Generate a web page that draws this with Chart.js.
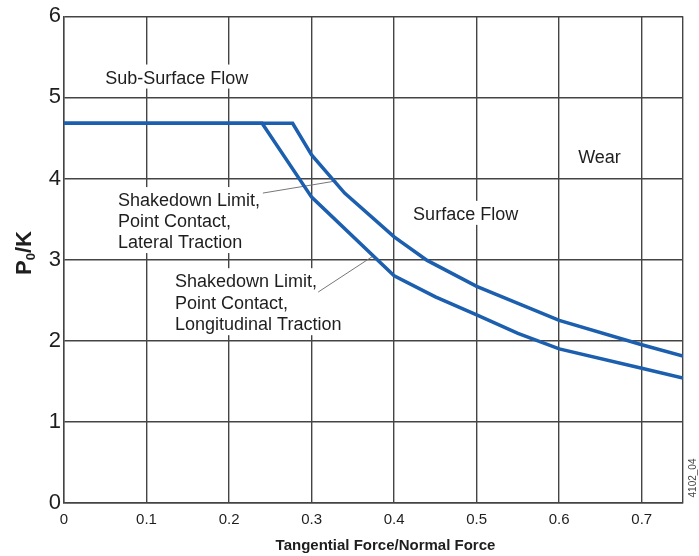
<!DOCTYPE html>
<html>
<head>
<meta charset="utf-8">
<script src="https://cdn.jsdelivr.net/npm/chart.js@4"></script>
<style>
  html, body { margin: 0; padding: 0; background: #fff; }
  #wrap { width: 699px; height: 556px; }
</style>
</head>
<body>
<div id="wrap"><canvas id="myChart" width="699" height="556"></canvas></div>
<script>
// values
var xTicks = [0, 0.1, 0.2, 0.3, 0.4, 0.5, 0.6, 0.7, 0.75];
var yTicks = [0, 1, 2, 3, 4, 5, 6];

var lateralX = [0, 0.277, 0.3, 0.34, 0.4, 0.44, 0.5, 0.6, 0.7, 0.75];
var lateralY = [4.68, 4.68, 4.29, 3.82, 3.28, 2.99, 2.67, 2.25, 1.95, 1.81];

var longX = [0, 0.24, 0.3, 0.4, 0.45, 0.5, 0.55, 0.6, 0.7, 0.75];
var longY = [4.68, 4.68, 3.77, 2.80, 2.54, 2.32, 2.09, 1.90, 1.66, 1.54];

// region labels [text, x, y] in data units (left, baseline)
var regionLabels = [
  ['Sub-Surface Flow', 0.05, 5.17],
  ['Wear', 0.623, 4.19],
  ['Surface Flow', 0.423, 3.49]
];
var lateralNote = ['Shakedown Limit,', 'Point Contact,', 'Lateral Traction'];
var longNote = ['Shakedown Limit,', 'Point Contact,', 'Longitudinal Traction'];

function pts(xs, ys) {
  var out = [];
  for (var i = 0; i < xs.length; i++) out.push({x: xs[i], y: ys[i]});
  return out;
}

var blue = '#1c5fae';
var gridCol = '#444';
var textCol = '#1e1e1e';

var labelsPlugin = {
  id: 'labels',
  beforeDatasetsDraw: function(chart) {
    var ctx = chart.ctx;
    var xs = chart.scales.x, ys = chart.scales.y;
    function px(v) { return xs.getPixelForValue(v); }
    function py(v) { return ys.getPixelForValue(v); }
    ctx.save();
    ctx.font = '18px "Liberation Sans", Arial, sans-serif';
    ctx.textBaseline = 'alphabetic';
    ctx.textAlign = 'left';

    // white boxes behind the texts
    function block(lines, x, y0, step) {
      var w = 0;
      for (var i = 0; i < lines.length; i++) w = Math.max(w, ctx.measureText(lines[i]).width);
      var left = px(x), top = py(y0) - 16;
      var h = step * (lines.length - 1) + 22;
      ctx.fillStyle = '#fff';
      ctx.fillRect(left - 4, top - 3, w + 8, h + 2);
      ctx.fillStyle = textCol;
      for (var j = 0; j < lines.length; j++) {
        ctx.fillText(lines[j], left, py(y0) + j * step);
      }
    }
    regionLabels.forEach(function(r) { block([r[0]], r[1], r[2], 21); });
    block(lateralNote, 0.0654, 3.66, 21);
    block(longNote, 0.1345, 2.66, 21.5);

    // leader lines
    ctx.strokeStyle = '#777';
    ctx.lineWidth = 1;
    ctx.beginPath();
    ctx.moveTo(px(0.241), py(3.82));
    ctx.lineTo(px(0.330), py(3.97));
    ctx.moveTo(px(0.308), py(2.60));
    ctx.lineTo(px(0.374), py(3.04));
    ctx.stroke();
    ctx.restore();
  },
  afterDraw: function(chart) {
    var ctx = chart.ctx;
    var a = chart.chartArea;
    ctx.save();
    ctx.fillStyle = textCol;
    // x title
    ctx.font = 'bold 15px "Liberation Sans", Arial, sans-serif';
    ctx.textAlign = 'center';
    ctx.textBaseline = 'alphabetic';
    ctx.fillText('Tangential Force/Normal Force', a.left + (a.right - a.left) / 2 + 12, 550);

    // y title P0/K, rotated
    ctx.translate(31, 253);
    ctx.rotate(-Math.PI / 2);
    ctx.font = 'bold 22px "Liberation Sans", Arial, sans-serif';
    ctx.textAlign = 'left';
    var wP = ctx.measureText('P').width;
    ctx.font = 'bold 13px "Liberation Sans", Arial, sans-serif';
    var w0 = ctx.measureText('0').width;
    ctx.font = 'bold 22px "Liberation Sans", Arial, sans-serif';
    var wK = ctx.measureText('/K').width;
    var start = -(wP + w0 + wK) / 2;
    ctx.fillText('P', start, 0);
    ctx.font = 'bold 13px "Liberation Sans", Arial, sans-serif';
    ctx.fillText('0', start + wP, 4);
    ctx.font = 'bold 22px "Liberation Sans", Arial, sans-serif';
    ctx.fillText('/K', start + wP + w0, 0);
    ctx.restore();

    // figure id
    ctx.save();
    ctx.translate(696, 478);
    ctx.rotate(-Math.PI / 2);
    ctx.font = '10px "Liberation Sans", Arial, sans-serif';
    ctx.fillStyle = '#444';
    ctx.textAlign = 'center';
    ctx.fillText('4102_04', 0, 0);
    ctx.restore();
  }
};

var ctx = document.getElementById('myChart').getContext('2d');
var myChart = new Chart(ctx, {
  type: 'scatter',
  data: {
    datasets: [
      {
        label: 'Shakedown Limit, Point Contact, Lateral Traction',
        data: pts(lateralX, lateralY),
        showLine: true,
        borderColor: blue,
        borderWidth: 3.5,
        pointRadius: 0,
        fill: false
      },
      {
        label: 'Shakedown Limit, Point Contact, Longitudinal Traction',
        data: pts(longX, longY),
        showLine: true,
        borderColor: blue,
        borderWidth: 3.5,
        pointRadius: 0,
        fill: false
      }
    ]
  },
  options: {
    responsive: false,
    animation: false,
    layout: { padding: { top: 16, right: 16, left: 0, bottom: 0 } },
    plugins: {
      legend: { display: false },
      tooltip: { enabled: false }
    },
    scales: {
      x: {
        type: 'linear',
        min: 0,
        max: 0.75,
        afterBuildTicks: function(scale) {
          scale.ticks = xTicks.map(function(v) { return {value: v}; });
        },
        afterFit: function(scale) { scale.height = 53; },
        grid: { color: gridCol, lineWidth: 1.4, drawTicks: false },
        border: { color: gridCol, width: 1.4 },
        ticks: {
          padding: 8,
          color: textCol,
          maxRotation: 0,
          autoSkip: false,
          font: { family: '"Liberation Sans", Arial, sans-serif', size: 15 },
          callback: function(v) { return v === 0.75 ? '' : String(v); }
        }
      },
      y: {
        type: 'linear',
        min: 0,
        max: 6,
        afterBuildTicks: function(scale) {
          scale.ticks = yTicks.map(function(v) { return {value: v}; });
        },
        afterFit: function(scale) { scale.width = 64; },
        grid: { color: gridCol, lineWidth: 1.4, drawTicks: false },
        border: { color: gridCol, width: 1.4 },
        ticks: {
          padding: 3,
          color: textCol,
          font: { family: '"Liberation Sans", Arial, sans-serif', size: 22 }
        }
      }
    }
  },
  plugins: [labelsPlugin]
});
</script>
</body>
</html>
